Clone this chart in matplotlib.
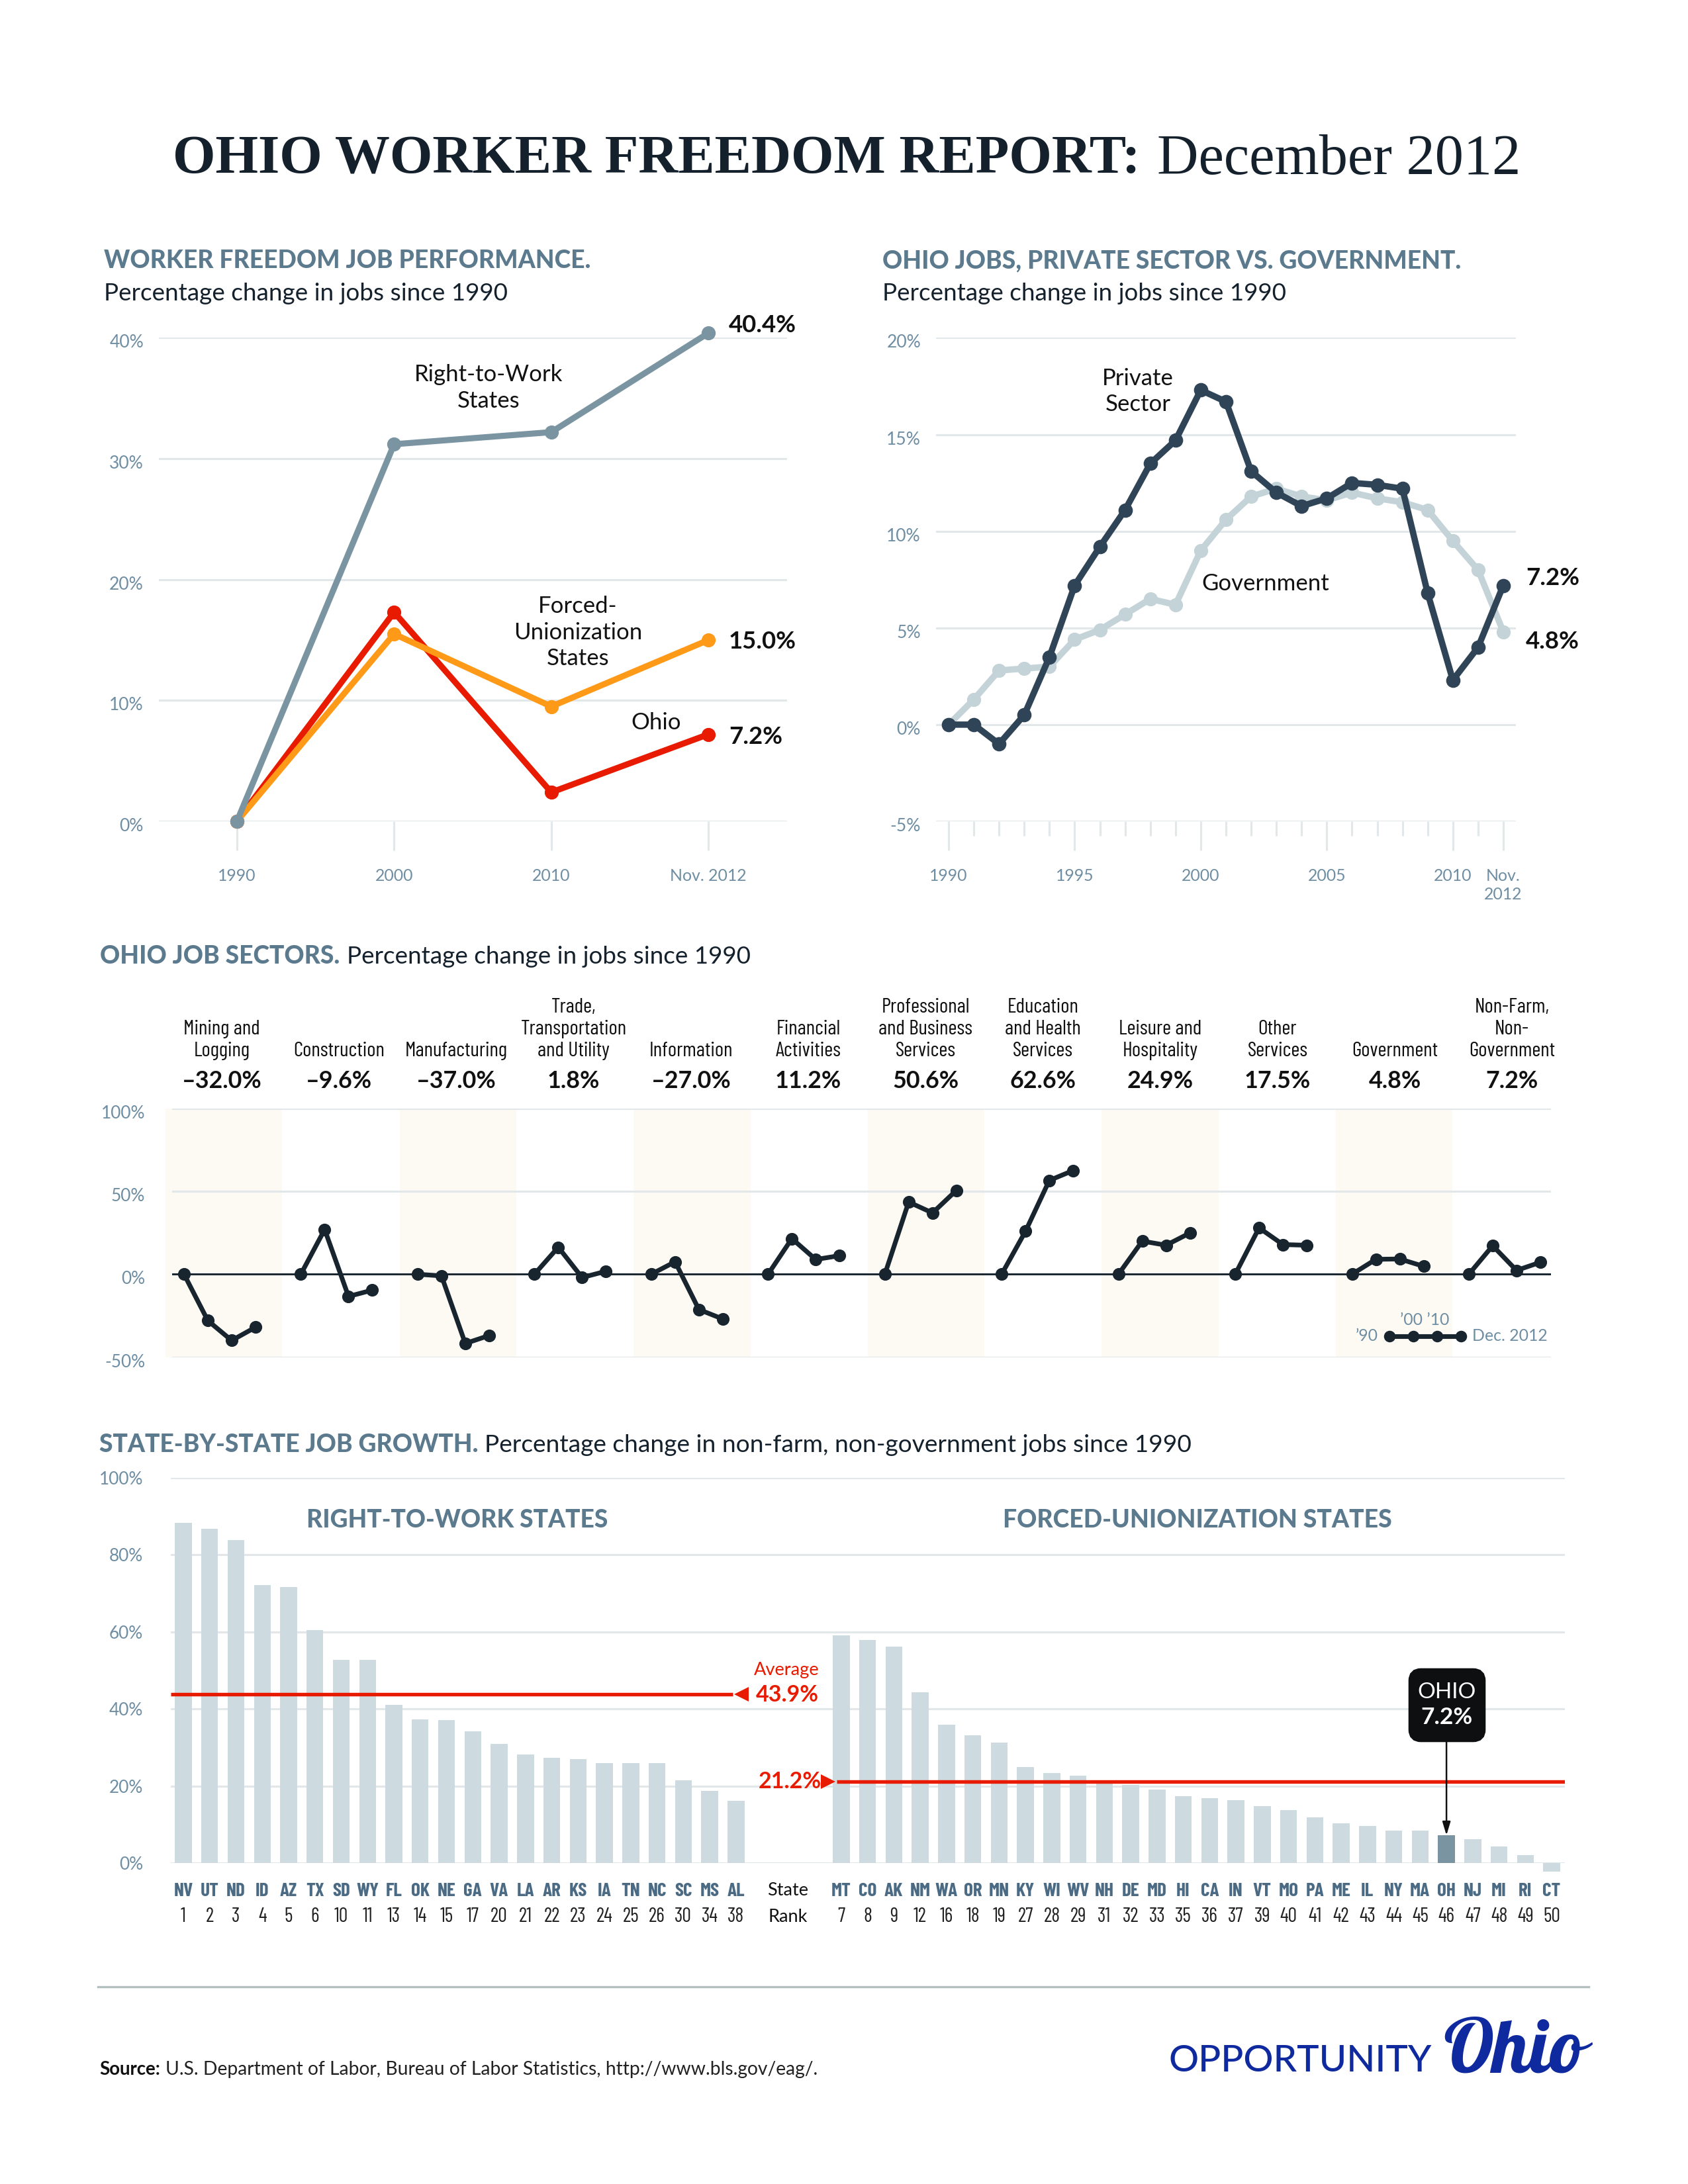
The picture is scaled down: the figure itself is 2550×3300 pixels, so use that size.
import warnings, logging
import matplotlib
matplotlib.use("Agg")
import matplotlib.pyplot as plt
from matplotlib.patches import FancyBboxPatch
from matplotlib.transforms import ScaledTranslation
logging.getLogger("matplotlib.font_manager").setLevel(logging.ERROR)

# ---------- data ----------
perf_labels = ["1990", "2000", "2010", "Nov. 2012"]
perf_rtw = [0, 31.2, 32.2, 40.4]
perf_forced = [0, 15.5, 9.5, 15.0]
perf_ohio = [0, 17.3, 2.4, 7.2]

years = list(range(1990, 2013))
private_sector = [0, 0, -1.0, 0.5, 3.5, 7.2, 9.2, 11.1, 13.5, 14.7, 17.3, 16.7, 13.1, 12.0, 11.3, 11.7,
                  12.5, 12.4, 12.2, 6.8, 2.3, 4.0, 7.2]
government = [0, 1.3, 2.8, 2.9, 3.0, 4.4, 4.9, 5.7, 6.5, 6.2, 9.0, 10.6, 11.8, 12.2, 11.8, 11.6,
              12.0, 11.7, 11.5, 11.1, 9.5, 8.0, 4.8]
year_majors = [1990, 1995, 2000, 2005, 2010, 2012]
year_labels = ["1990", "1995", "2000", "2005", "2010", "Nov.\n2012"]

sector_names = [["Mining and", "Logging"], ["Construction"], ["Manufacturing"],
                ["Trade,", "Transportation", "and Utility"], ["Information"], ["Financial", "Activities"],
                ["Professional", "and Business", "Services"], ["Education", "and Health", "Services"],
                ["Leisure and", "Hospitality"], ["Other", "Services"], ["Government"],
                ["Non-Farm,", "Non-", "Government"]]
sector_changes = ["–32.0%", "–9.6%", "–37.0%", "1.8%", "–27.0%", "11.2%", "50.6%", "62.6%", "24.9%",
                  "17.5%", "4.8%", "7.2%"]
sector_series = [[0, -28, -40, -32.0], [0, 27, -13.4, -9.6], [0, -1, -41.8, -37.0], [0, 16.3, -2, 1.8],
                 [0, 7.5, -21.3, -27.0], [0, 21.5, 8.9, 11.2], [0, 43.6, 37, 50.6], [0, 25.9, 56.6, 62.6],
                 [0, 20, 17.5, 24.9], [0, 28, 17.9, 17.5], [0, 9, 9.2, 4.8], [0, 17.2, 2.3, 7.2]]

rtw_states = ["NV", "UT", "ND", "ID", "AZ", "TX", "SD", "WY", "FL", "OK", "NE", "GA", "VA", "LA", "AR", "KS",
              "IA", "TN", "NC", "SC", "MS", "AL"]
rtw_ranks = [1, 2, 3, 4, 5, 6, 10, 11, 13, 14, 15, 17, 20, 21, 22, 23, 24, 25, 26, 30, 34, 38]
rtw_values = [88.4, 86.7, 83.8, 72.1, 71.6, 60.5, 52.8, 52.7, 41.1, 37.2, 37.1, 34.2, 30.9, 28.2, 27.4, 26.9,
              26.0, 26.0, 25.9, 21.5, 18.8, 16.1]
fu_states = ["MT", "CO", "AK", "NM", "WA", "OR", "MN", "KY", "WI", "WV", "NH", "DE", "MD", "HI", "CA", "IN",
             "VT", "MO", "PA", "ME", "IL", "NY", "MA", "OH", "NJ", "MI", "RI", "CT"]
fu_ranks = [7, 8, 9, 12, 16, 18, 19, 27, 28, 29, 31, 32, 33, 35, 36, 37, 39, 40, 41, 42, 43, 44, 45, 46, 47, 48,
            49, 50]
fu_values = [59.1, 57.9, 56.2, 44.4, 35.9, 33.1, 31.2, 25.0, 23.3, 22.7, 21.1, 20.2, 19.1, 17.4, 16.8, 16.4,
             14.8, 13.8, 11.9, 10.3, 9.6, 8.5, 8.5, 7.2, 6.1, 4.3, 2.1, -2.3]
rtw_average = 43.9
fu_average = 21.2

# ---------- style ----------
W, H = 2550, 3300
SANS = "Lato"
NARROW = ["Barlow Condensed", "Asap Condensed", "Lato"]
SCRIPT = ["Yellowtail", "Lobster", "Pacifico", "Liberation Serif"]
SERIF = "Liberation Serif"
DARK = "#14212c"
HEAD = "#5c7a8e"
TICK = "#6f8ea3"
GRID = "#e2e8e9"
RED = "#e81a00"
ORANGE = "#ff9a18"
STEEL = "#7a95a1"
PALE = "#c3d3d7"
NAVY = "#2f4557"
BAR = "#cddbe0"
BAND = "#fdfaf4"
BLUE = "#0f2a9f"

fig = plt.figure(figsize=(W / 300, H / 300), dpi=300, facecolor="white")
renderer = fig.canvas.get_renderer()


def size_for(s, width, **kw):
    t = fig.text(0, 0, s, fontsize=10, **kw)
    w = t.get_window_extent(renderer).width
    t.remove()
    return 10 * width / w


def T(x, y, s, size, ha="left", va="center", color=DARK, family=SANS, **kw):
    return fig.text(x / W, 1 - (y + 2) / H, s, fontsize=size, ha=ha, va=va, color=color, family=family, **kw)


def ax_px(l, t, r, b):
    ax = fig.add_axes([l / W, 1 - b / H, (r - l) / W, (b - t) / H])
    ax.patch.set_alpha(0)
    for s in ax.spines.values():
        s.set_visible(False)
    ax.set_axisbelow(True)
    ax.grid(axis="y", color=GRID, lw=0.75)
    ax.grid(axis="x", visible=False)
    return ax


def style_y(ax, ticks, labels, pad_px, tick_size, drop_px=5):
    ax.set_yticks(ticks, labels)
    ax.tick_params(axis="y", length=0, pad=pad_px * 72 / 300, labelsize=tick_size, labelcolor=TICK)
    off = ScaledTranslation(0, -drop_px / 300, fig.dpi_scale_trans)
    for lab in ax.get_yticklabels():
        lab.set_transform(lab.get_transform() + off)
        lab.set_family(SANS)


tick_sz = size_for("Nov. 2012", 116, family=SANS)
ytick_sz = size_for("40%", 52, family=SANS)
ytick_wide_sz = size_for("100%", 67, family=SANS)
sub_sz = size_for("Percentage change in jobs since 1990", 610, family=SANS)
head_sz = size_for("WORKER FREEDOM JOB PERFORMANCE.", 734, family=SANS, weight="black")
note_sz = size_for("Right-to-Work", 224, family=SANS)
val_sz = size_for("40.4%", 102, family=SANS, weight="bold")

# ---------- main title ----------
t1 = "OHIO WORKER FREEDOM REPORT:"
t2 = "December 2012"
T(261, 240, t1, size_for(t1, 1463, family=SERIF, weight="bold"), family=SERIF, weight="bold")
T(1748, 240, t2, size_for(t2, 549, family=SERIF), family=SERIF)

# ---------- chart 1 ----------
T(157, 392, "WORKER FREEDOM JOB PERFORMANCE.", head_sz, color=HEAD, weight="black")
T(157, 441, "Percentage change in jobs since 1990", sub_sz)
ax = ax_px(240, 510.5, 1189, 1241)
x4 = list(range(4))
for vals, col in [(perf_ohio, RED), (perf_forced, ORANGE), (perf_rtw, STEEL)]:
    ax.plot(x4, vals, color=col, lw=2.2, marker="o", ms=4.1, clip_on=False, solid_joinstyle="round")
ax.set_xlim(-0.4966, 3.5)
ax.set_ylim(0, 40)
style_y(ax, [0, 10, 20, 30, 40], ["0%", "10%", "20%", "30%", "40%"], 23, ytick_sz)
ax.set_xticks(x4, perf_labels, family=SANS)
ax.tick_params(axis="x", length=44 * 72 / 300, width=0.75, color=GRID, pad=6.5, labelsize=tick_sz, labelcolor=TICK)
for y, s in [(564, "Right-to-Work"), (604, "States")]:
    T(738, y, s, note_sz, ha="center", color="#111111")
for y, s in [(914, "Forced-"), (954, "Unionization"), (993, "States")]:
    T(873, y, s, note_sz, ha="center", color="#111111")
T(991, 1090, "Ohio", note_sz, ha="center", color="#111111")
for y, s in [(490, "40.4%"), (968, "15.0%"), (1111, "7.2%")]:
    T(1101, y, s, val_sz, weight="bold", color="#111111")

# ---------- chart 2 ----------
T(1333, 392, "OHIO JOBS, PRIVATE SECTOR VS. GOVERNMENT.", head_sz, color=HEAD, weight="black")
T(1333, 441, "Percentage change in jobs since 1990", sub_sz)
ax = ax_px(1414, 510.5, 2290, 1241)
ax.plot(years, government, color=PALE, lw=2.3, marker="o", ms=4.1, clip_on=False)
ax.plot(years, private_sector, color=NAVY, lw=2.3, marker="o", ms=4.2, clip_on=False)
ax.set_xlim(1989.5, 2012.5)
ax.set_ylim(-5, 20)
style_y(ax, [-5, 0, 5, 10, 15, 20], ["-5%", "0%", "5%", "10%", "15%", "20%"], 23, ytick_sz)
ax.set_xticks(year_majors, year_labels, family=SANS)
ax.set_xticks([y for y in years if y not in year_majors], minor=True)
ax.tick_params(axis="x", which="major", length=44 * 72 / 300, width=0.75, color=GRID, pad=6.5, labelsize=tick_sz,
               labelcolor=TICK)
ax.tick_params(axis="x", which="minor", length=22 * 72 / 300, width=0.75, color=GRID)
for lab in ax.get_xticklabels():
    lab.set_linespacing(1.25)
for y, s in [(570, "Private"), (609, "Sector")]:
    T(1719, y, s, note_sz, ha="center", color="#111111")
T(1912, 880, "Government", note_sz, ha="center", color="#111111")
for y, s in [(871, "7.2%"), (967, "4.8%")]:
    T(2305, y, s, val_sz, weight="bold", color="#111111")

# ---------- chart 3 ----------
T(151, 1443, "OHIO JOB SECTORS.", size_for("OHIO JOB SECTORS.", 362, family=SANS, weight="black"),
  color=HEAD, weight="black")
T(524, 1443, "Percentage change in jobs since 1990", sub_sz)
ax = ax_px(260, 1675, 2343, 2050.5)
step = 36 / 176.45
band_step = 176.8 / 176.45
for i, series in enumerate(sector_series):
    if i % 2 == 0 and i < 11:
        ax.axvspan(i * band_step - 0.159, i * band_step + 0.841, color=BAND, lw=0, zorder=0.5, clip_on=False)
    ax.plot([i + k * step for k in range(4)], series, color="#18252f", lw=1.7, marker="o", ms=3.6, clip_on=False,
            zorder=4)
ax.axhline(0, color="#18252f", lw=0.7, zorder=3)
ax.set_xlim(-0.102, 11.703)
ax.set_ylim(-50, 100)
ax.set_xticks([])
style_y(ax, [-50, 0, 50, 100], ["-50%", "0%", "50%", "100%"], 41, ytick_wide_sz)
# small key showing the years of each point
key_x = [10.32 + k * step for k in range(4)]
ax.plot(key_x, [-37.5] * 4, color="#18252f", lw=1.7, marker="o", ms=3.2, clip_on=False, zorder=4)
T(2082, 2016, "’90", tick_sz, ha="right", color=TICK)
T(2224, 2016, "Dec. 2012", tick_sz, color=TICK)
T(2152, 1993, "’00 ’10", tick_sz, ha="center", color=TICK)

lab_sz = size_for("Transportation", 160, family=NARROW)
pct_sz = size_for("–32.0%", 121, family=SANS, weight="bold")
line_y = [1520, 1553, 1586]
for i, (names, change) in enumerate(zip(sector_names, sector_changes)):
    cx = 335 + 177.2 * i
    for s, y in zip(names, line_y[-len(names):]):
        T(cx, y, s, lab_sz, ha="center", family=NARROW, color="#111111")
    T(cx, 1632, change, pct_sz, ha="center", weight="bold", color="#111111")

# ---------- chart 4 ----------
h4 = "STATE-BY-STATE JOB GROWTH."
s4 = "Percentage change in non-farm, non-government jobs since 1990"
T(150, 2181, h4, size_for(h4, 573, family=SANS, weight="black"), color=HEAD, weight="black")
T(732, 2181, s4, size_for(s4, 1066, family=SANS))
ax = ax_px(258, 2233, 2364, 2815)
rtw_x = list(range(len(rtw_states)))
fu_x = [25 + i for i in range(len(fu_states))]
ax.bar(rtw_x, rtw_values, width=0.64, color=BAR, lw=0, zorder=2)
fu_colors = [STEEL if s == "OH" else BAR for s in fu_states]
ax.bar(fu_x, fu_values, width=0.64, color=fu_colors, lw=0, zorder=2, clip_on=False)
ax.set_xlim(-0.478, 52.5)
ax.set_ylim(0, 100)
style_y(ax, [0, 20, 40, 60, 80, 100], ["0%", "20%", "40%", "60%", "80%", "100%"], 42, ytick_wide_sz, drop_px=0)
state_sz = size_for("NV", 29.5, family=NARROW, weight="bold")
rank_sz = size_for("38", 25, family=NARROW)
ax.set_xticks(rtw_x + fu_x, rtw_states + fu_states, family=NARROW, weight="bold")
ax.tick_params(axis="x", length=0, pad=(2845 - 2815) * 72 / 300, labelsize=state_sz, labelcolor="#4b6b85")
for xs, rs in [(rtw_x, rtw_ranks), (fu_x, fu_ranks)]:
    for x, r in zip(xs, rs):
        ax.text(x, -13.9, str(r), ha="center", va="center", fontsize=rank_sz, family=NARROW, color="#222222",
                clip_on=False)
rank_head_sz = size_for("State", 62, family=SANS)
T(1190, 2855, "State", rank_head_sz, ha="center", color="#111111")
T(1190, 2894, "Rank", rank_head_sz, ha="center", color="#111111")

ax.hlines(rtw_average, -0.478, 20.87, color=RED, lw=1.3, zorder=3)
ax.hlines(fu_average, 24.83, 52.5, color=RED, lw=1.3, zorder=3)
ax.plot([21.2], [rtw_average], marker="<", ms=5.4, color=RED, mew=0, clip_on=False, zorder=3)
ax.plot([24.5], [fu_average], marker=">", ms=5.4, color=RED, mew=0, clip_on=False, zorder=3)
red_sz = size_for("43.9%", 95, family=SANS, weight="bold")
T(1188, 2521, "Average", size_for("Average", 99, family=SANS), ha="center", color=RED)
T(1142, 2559, "43.9%", red_sz, weight="bold", color=RED)
T(1146, 2690, "21.2%", red_sz, weight="bold", color=RED)

T(691, 2295, "RIGHT-TO-WORK STATES",
  size_for("RIGHT-TO-WORK STATES", 455, family=SANS, weight="black"), ha="center", color=HEAD, weight="black")
T(1809, 2295, "FORCED-UNIONIZATION STATES",
  size_for("FORCED-UNIONIZATION STATES", 588, family=SANS, weight="black"), ha="center", color=HEAD, weight="black")

# Ohio call-out
fig.add_artist(FancyBboxPatch((2135 / W, 1 - 2625 / H), 102 / W, 97 / H,
                              boxstyle="round,pad=0,rounding_size=0.0045", mutation_aspect=W / H,
                              transform=fig.transFigure, fc="#0d0f10", ec="#0d0f10", lw=3.5, zorder=5))
T(2186, 2555, "OHIO", size_for("OHIO", 88, family=SANS), ha="center", color="white", zorder=6)
T(2186, 2593, "7.2%", size_for("7.2%", 78, family=SANS, weight="bold"), ha="center", color="white", weight="bold",
  zorder=6)
ax.annotate("", xy=(48, 7.2), xytext=(48, 31.5),
            arrowprops=dict(arrowstyle="-|>,head_length=0.4,head_width=0.12", color="#111111", lw=0.6,
                            shrinkA=0, shrinkB=0), zorder=5)

# ---------- footer ----------
fig.add_artist(plt.Line2D([148 / W, 2400 / W], [1 - 3002 / H] * 2, color="#b4c0c0", lw=0.8))
T(150, 3125, "Source:", size_for("Source:", 92, family=SANS, weight="bold"), weight="bold", color="#111111")
src = "U.S. Department of Labor, Bureau of Labor Statistics, http://www.bls.gov/eag/."
T(250, 3125, src, size_for(src, 983, family=SANS), color="#222222")
T(1765, 3112, "OPPORTUNITY", size_for("OPPORTUNITY", 396, family=SANS, weight="medium"), color=BLUE, weight="medium")
T(2180, 3104, "Ohio", size_for("Ohio", 212, family=SCRIPT), family=SCRIPT, color=BLUE)

fig.savefig("out.png", dpi=300, facecolor="white")
